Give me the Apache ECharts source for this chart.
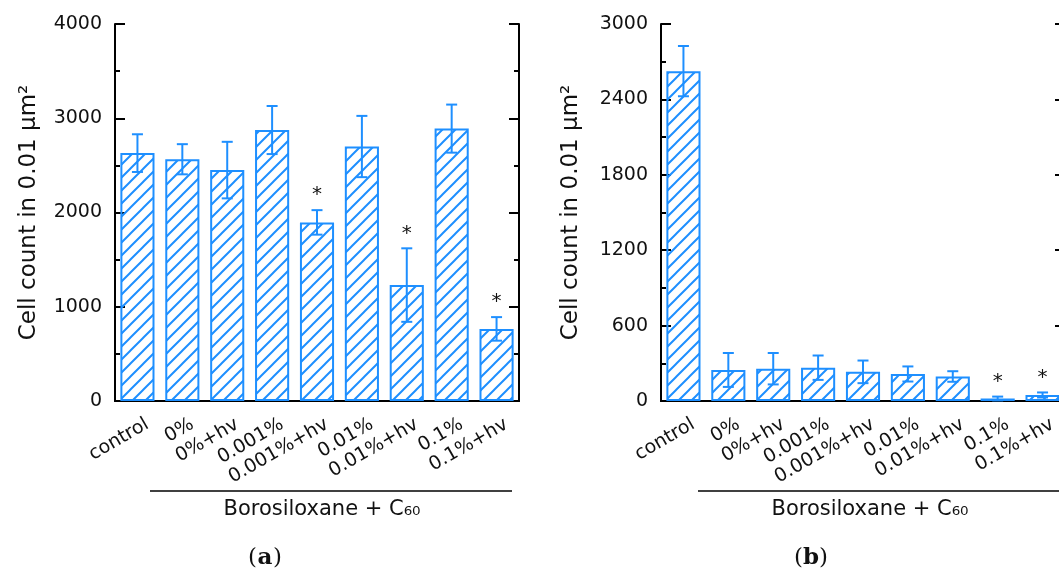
<!DOCTYPE html>
<html>
<head>
<meta charset="utf-8">
<script src="https://cdn.jsdelivr.net/npm/echarts@6/dist/echarts.min.js"></script>
<style>
  html, body { margin: 0; padding: 0; background: #fff; }
  #chart { width: 1059px; height: 574px; }
</style>
</head>
<body>
<div id="chart"></div>
<script>
// data
var categories = ['control', '0%', '0%+hv', '0.001%', '0.001%+hv', '0.01%', '0.01%+hv', '0.1%', '0.1%+hv'];

var countsA = [2630, 2565, 2450, 2875, 1895, 2700, 1230, 2890, 765];
var errorsA = [200, 160, 300, 255, 130, 325, 390, 255, 125];
var signifA = [0, 0, 0, 0, 1, 0, 1, 0, 1];
var ticksA = [0, 1000, 2000, 3000, 4000];

var countsB = [2625, 247, 257, 265, 232, 215, 195, 20, 48];
var errorsB = [200, 135, 125, 97, 90, 60, 42, 15, 20];
var signifB = [0, 0, 0, 0, 0, 0, 0, 1, 1];
var ticksB = [0, 600, 1200, 1800, 2400, 3000];

var BLUE = '#1e8fff';
var FONT = '"DejaVu Sans", sans-serif';

function hatch() {
  var c = document.createElement('canvas');
  c.width = c.height = 13;
  var g = c.getContext('2d');
  g.strokeStyle = BLUE;
  g.lineWidth = 2;
  g.beginPath();
  g.moveTo(0, 13); g.lineTo(13, 0);
  g.moveTo(-1, 1); g.lineTo(1, -1);
  g.moveTo(12, 14); g.lineTo(14, 12);
  g.stroke();
  return c;
}

function errData(means, errs) {
  return means.map(function (m, i) { return [i, m - errs[i], m + errs[i]]; });
}
function starData(means, errs, sig) {
  var out = [];
  sig.forEach(function (s, i) { if (s) out.push([i, means[i] + errs[i]]); });
  return out;
}

function renderErr(params, api) {
  var i = api.value(0);
  var lo = api.coord([i, api.value(1)]);
  var hi = api.coord([i, api.value(2)]);
  var st = { stroke: BLUE, lineWidth: 2 };
  return {
    type: 'group',
    children: [
      { type: 'line', shape: { x1: hi[0], y1: hi[1], x2: lo[0], y2: lo[1] }, style: st },
      { type: 'line', shape: { x1: hi[0] - 5.5, y1: hi[1], x2: hi[0] + 5.5, y2: hi[1] }, style: st },
      { type: 'line', shape: { x1: lo[0] - 5.5, y1: lo[1], x2: lo[0] + 5.5, y2: lo[1] }, style: st }
    ]
  };
}

function renderStar(params, api) {
  var p = api.coord([api.value(0), api.value(1)]);
  return {
    type: 'text',
    style: { x: p[0], y: p[1] - 15, text: '*', fontSize: 20, fontFamily: 'DejaVu Sans',
      fill: '#111', align: 'center', verticalAlign: 'middle' }
  };
}

var lineSt = { color: '#000', width: 2 };

function catAxis(grid, pos) {
  return {
    type: 'category', gridIndex: grid, position: pos, data: categories,
    axisLine: { lineStyle: lineSt },
    axisTick: { inside: true, alignWithLabel: true, length: 10, lineStyle: lineSt },
    axisLabel: { show: false }
  };
}
function labelAxis(grid) {
  return {
    type: 'category', gridIndex: grid, data: categories,
    axisLine: { show: false }, axisTick: { show: false },
    axisLabel: { rotate: 30, margin: 22, fontSize: 19, fontFamily: FONT, color: '#111', interval: 0 }
  };
}
function valAxis(grid, pos, ticks, withLabels, gap) {
  var ax = {
    type: 'value', gridIndex: grid, position: pos,
    min: ticks[0], max: ticks[ticks.length - 1], interval: ticks[1] - ticks[0],
    splitLine: { show: false },
    axisLine: { show: true, lineStyle: lineSt },
    axisTick: { show: true, inside: true, length: 10, lineStyle: lineSt },
    minorTick: { show: true, splitNumber: 2, length: 5, lineStyle: { color: '#000', width: 2 } },
    axisLabel: { show: withLabels, fontSize: 19, fontFamily: FONT, color: '#111', margin: 13,
      formatter: function (v) { return String(v); } }
  };
  if (withLabels) {
    ax.name = 'Cell count in 0.01 \u03bcm\u00b2';
    ax.nameLocation = 'middle';
    ax.nameGap = gap;
    ax.nameTextStyle = { fontSize: 23, fontFamily: FONT, color: '#111' };
  }
  return ax;
}

var pattern = { image: hatch(), repeat: 'repeat' };

function barSeries(x, y, data) {
  return {
    type: 'bar', xAxisIndex: x, yAxisIndex: y, data: data, barWidth: '76%',
    itemStyle: { color: pattern, borderColor: BLUE, borderWidth: 2 }
  };
}

function gridAt(left) {
  return { left: left, top: 24, width: 404, height: 377, containLabel: false, outerBoundsMode: 'none' };
}

// panel caption "(a)" / "(b)": plain brackets around a bold letter
function caption(cx, letter) {
  var st = { fontSize: 23, fontFamily: 'DejaVu Serif', fill: '#111', verticalAlign: 'middle' };
  return [
    { type: 'text', x: cx - 8, y: 558, style: Object.assign({ text: '(', align: 'right' }, st) },
    { type: 'text', x: cx, y: 558, style: Object.assign({ text: letter, align: 'center', fontWeight: 'bold' }, st) },
    { type: 'text', x: cx + 8, y: 558, style: Object.assign({ text: ')', align: 'left' }, st) }
  ];
}

var option = {
  animation: false,
  backgroundColor: '#fff',
  grid: [gridAt(115), gridAt(661), gridAt(125), gridAt(671)],
  xAxis: [
    catAxis(0, 'bottom'), catAxis(0, 'top'),
    catAxis(1, 'bottom'), catAxis(1, 'top'),
    labelAxis(2), labelAxis(3)
  ],
  yAxis: [
    valAxis(0, 'left', ticksA, true, 74), valAxis(0, 'right', ticksA, false),
    valAxis(1, 'left', ticksB, true, 78), valAxis(1, 'right', ticksB, false),
    { gridIndex: 2, show: false, min: 0, max: 1 },
    { gridIndex: 3, show: false, min: 0, max: 1 }
  ],
  series: [
    barSeries(0, 0, countsA),
    { type: 'custom', xAxisIndex: 0, yAxisIndex: 0, data: errData(countsA, errorsA), renderItem: renderErr, z: 3 },
    { type: 'custom', xAxisIndex: 0, yAxisIndex: 0, data: starData(countsA, errorsA, signifA), renderItem: renderStar, z: 3 },
    barSeries(2, 2, countsB),
    { type: 'custom', xAxisIndex: 2, yAxisIndex: 2, data: errData(countsB, errorsB), renderItem: renderErr, z: 3 },
    { type: 'custom', xAxisIndex: 2, yAxisIndex: 2, data: starData(countsB, errorsB, signifB), renderItem: renderStar, z: 3 }
  ],
  graphic: [
    { type: 'line', shape: { x1: 150, y1: 491, x2: 512, y2: 491 }, style: { stroke: '#000', lineWidth: 1.5 } },
    { type: 'line', shape: { x1: 698, y1: 491, x2: 1070, y2: 491 }, style: { stroke: '#000', lineWidth: 1.5 } },
    { type: 'text', x: 322, y: 510, style: { text: 'Borosiloxane + C\u2086\u2080', fontSize: 21, fontFamily: 'DejaVu Sans',
      fill: '#111', align: 'center', verticalAlign: 'middle' } },
    { type: 'text', x: 870, y: 510, style: { text: 'Borosiloxane + C\u2086\u2080', fontSize: 21, fontFamily: 'DejaVu Sans',
      fill: '#111', align: 'center', verticalAlign: 'middle' } }
  ].concat(caption(265, 'a'), caption(811, 'b'))
};

var myChart = echarts.init(document.getElementById('chart'));
myChart.setOption(option);
</script>
</body>
</html>
